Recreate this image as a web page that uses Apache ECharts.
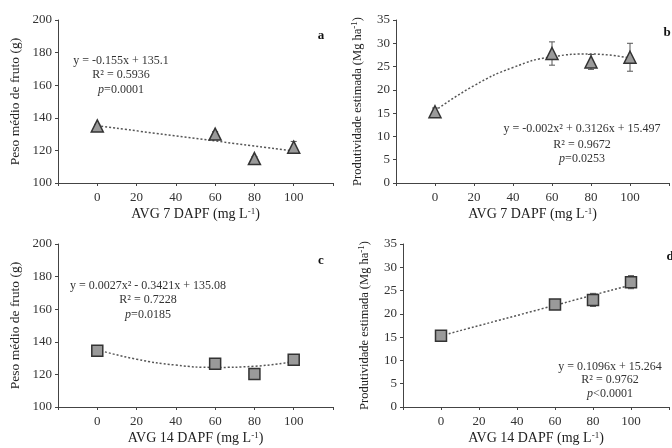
<!DOCTYPE html>
<html>
<head>
<meta charset="utf-8">
<script src="https://cdn.jsdelivr.net/npm/echarts@6/dist/echarts.min.js"></script>
<style>
  html, body { margin: 0; padding: 0; background: #fff; }
  #chart { width: 672px; height: 448px; }
</style>
</head>
<body>
<div id="chart"></div>
<script>
// doses of AVG (mg L-1)
const doses = [0, 60, 80, 100];
const xTicks = [0, 20, 40, 60, 80, 100];

// panel a: fruit weight, AVG 7 DAPF
const weight7 = [135, 130, 115, 122];
const weight7Err = [1, 1.5, 1.2, 3.5];
const weight7Trend = [135.1, 119.6]; // at x = 0, 100

// panel b: yield, AVG 7 DAPF
const yield7 = [15.3, 27.8, 26.0, 27.0];
const yield7Err = [0.8, 2.5, 1.6, 3.0];
const yield7Trend = [15.5, 20.9, 24.8, 27.1, 27.7, 26.8]; // at xTicks

// panel c: fruit weight, AVG 14 DAPF
const weight14 = [134.5, 126.5, 120.2, 129];
const weight14Err = [1, 1, 2.2, 1];
const weight14Trend = [135.1, 129.3, 125.7, 124.3, 125.0, 127.9];

// panel d: yield, AVG 14 DAPF
const yield14 = [15.3, 22.0, 23.0, 26.8];
const yield14Err = [0.5, 0.7, 1.4, 1.4];
const yield14Trend = [15.3, 26.2]; // at x = 0, 100

const serif = 'Liberation Serif';
const sup = { fontSize: 9, verticalAlign: 'top', fontFamily: serif, color: '#222', padding: [0, 0, 6, 0] };

const grids = [
  { left: 58, top: 20, width: 275, height: 163 },
  { left: 396, top: 20, width: 280, height: 163 },
  { left: 58, top: 244, width: 275, height: 163 },
  { left: 403, top: 244, width: 280, height: 163 }
];

function xAxis(i, name) {
  return {
    type: 'value', gridIndex: i, min: -20, max: 120, interval: 20,
    name: name, nameLocation: 'middle', nameGap: 24,
    nameTextStyle: { fontFamily: serif, fontSize: 14, color: '#222', rich: { s: sup } },
    axisLine: { onZero: false, lineStyle: { color: '#444', width: 1 } },
    axisTick: { show: true, length: 3, lineStyle: { color: '#444' } },
    axisLabel: {
      fontFamily: serif, fontSize: 13, color: '#333', margin: 8,
      formatter: v => (v < 0 || v > 100) ? '' : String(v)
    },
    splitLine: { show: false }
  };
}

function yAxis(i, min, max, interval, name, gap, size) {
  return {
    type: 'value', gridIndex: i, min: min, max: max, interval: interval,
    name: name, nameLocation: 'middle', nameGap: gap,
    nameTextStyle: { fontFamily: serif, fontSize: size, color: '#222', rich: { s: sup } },
    axisLine: { show: true, onZero: false, lineStyle: { color: '#444', width: 1 } },
    axisTick: { show: true, length: 3, lineStyle: { color: '#444' } },
    axisLabel: { fontFamily: serif, fontSize: 13, color: '#333', margin: 6 },
    splitLine: { show: false }
  };
}

function errSeries(i, means, errs) {
  return {
    type: 'custom', xAxisIndex: i, yAxisIndex: i, z: 3,
    data: doses.map((d, k) => [d, means[k] - errs[k], means[k] + errs[k]]),
    renderItem: (params, api) => {
      const lo = api.coord([api.value(0), api.value(1)]);
      const hi = api.coord([api.value(0), api.value(2)]);
      const w = 3;
      const style = { stroke: '#555', lineWidth: 1 };
      return {
        type: 'group',
        children: [
          { type: 'line', shape: { x1: lo[0], y1: lo[1], x2: hi[0], y2: hi[1] }, style },
          { type: 'line', shape: { x1: lo[0] - w, y1: lo[1], x2: lo[0] + w, y2: lo[1] }, style },
          { type: 'line', shape: { x1: hi[0] - w, y1: hi[1], x2: hi[0] + w, y2: hi[1] }, style }
        ]
      };
    }
  };
}

function trendSeries(i, xs, ys) {
  return {
    type: 'line', xAxisIndex: i, yAxisIndex: i, smooth: true, symbol: 'none', z: 2,
    data: xs.map((x, k) => [x, ys[k]]),
    lineStyle: { color: '#555', width: 1.5, type: [2, 2] }
  };
}

function pointSeries(i, means, symbol) {
  return {
    type: 'scatter', xAxisIndex: i, yAxisIndex: i, z: 4,
    symbol: symbol, symbolSize: symbol === 'triangle' ? 12 : 11,
    data: doses.map((d, k) => [d, means[k]]),
    itemStyle: { color: '#9a9a9a', borderColor: '#333', borderWidth: 1.5, opacity: 1 }
  };
}

function txt(x, y, t, opts) {
  return {
    type: 'text', x: x, y: y,
    style: Object.assign({
      text: t, fontFamily: serif, fontSize: 12, fill: '#333',
      align: 'center', verticalAlign: 'middle'
    }, opts || {})
  };
}

function pText(x, y, rest) {
  return {
    type: 'text', x: x, y: y,
    style: {
      text: '{i|p}' + rest, fontFamily: serif, fontSize: 12, fill: '#333',
      align: 'center', verticalAlign: 'middle',
      rich: { i: { fontStyle: 'italic', fontFamily: serif, fontSize: 12, fill: '#333' } }
    }
  };
}

const option = {
  animation: false,
  backgroundColor: '#fff',
  grid: grids,
  xAxis: [
    xAxis(0, 'AVG 7 DAPF (mg L{s|-1})'),
    xAxis(1, 'AVG 7 DAPF (mg L{s|-1})'),
    xAxis(2, 'AVG 14 DAPF (mg L{s|-1})'),
    xAxis(3, 'AVG 14 DAPF (mg L{s|-1})')
  ],
  yAxis: [
    yAxis(0, 100, 200, 20, 'Peso médio de fruto (g)', 36, 13.5),
    yAxis(1, 0, 35, 5, 'Produtividade estimada (Mg ha{s|-1})', 31, 12.5),
    yAxis(2, 100, 200, 20, 'Peso médio de fruto (g)', 36, 13.5),
    yAxis(3, 0, 35, 5, 'Produtividade estimada (Mg ha{s|-1})', 31, 12.5)
  ],
  series: [
    trendSeries(0, [0, 100], weight7Trend),
    errSeries(0, weight7, weight7Err),
    pointSeries(0, weight7, 'triangle'),
    trendSeries(1, xTicks, yield7Trend),
    errSeries(1, yield7, yield7Err),
    pointSeries(1, yield7, 'triangle'),
    trendSeries(2, xTicks, weight14Trend),
    errSeries(2, weight14, weight14Err),
    pointSeries(2, weight14, 'rect'),
    trendSeries(3, [0, 100], yield14Trend),
    errSeries(3, yield14, yield14Err),
    pointSeries(3, yield14, 'rect')
  ],
  graphic: [
    txt(121, 61, 'y = -0.155x + 135.1'),
    txt(121, 75, 'R² = 0.5936'),
    pText(121, 90, '=0.0001'),
    txt(582, 129, 'y = -0.002x² + 0.3126x + 15.497'),
    txt(582, 145, 'R² = 0.9672'),
    pText(582, 159, '=0.0253'),
    txt(148, 286, 'y = 0.0027x² - 0.3421x + 135.08'),
    txt(148, 300, 'R² = 0.7228'),
    pText(148, 315, '=0.0185'),
    txt(610, 367, 'y = 0.1096x + 15.264'),
    txt(610, 380, 'R² = 0.9762'),
    pText(610, 394, '<0.0001'),
    txt(321, 36, 'a', { fontWeight: 'bold', fontSize: 13, fill: '#111' }),
    txt(667, 33, 'b', { fontWeight: 'bold', fontSize: 13, fill: '#111' }),
    txt(321, 261, 'c', { fontWeight: 'bold', fontSize: 13, fill: '#111' }),
    txt(670, 257, 'd', { fontWeight: 'bold', fontSize: 13, fill: '#111' })
  ]
};

const chart = echarts.init(document.getElementById('chart'), null, { renderer: 'canvas' });
chart.setOption(option);
</script>
</body>
</html>
